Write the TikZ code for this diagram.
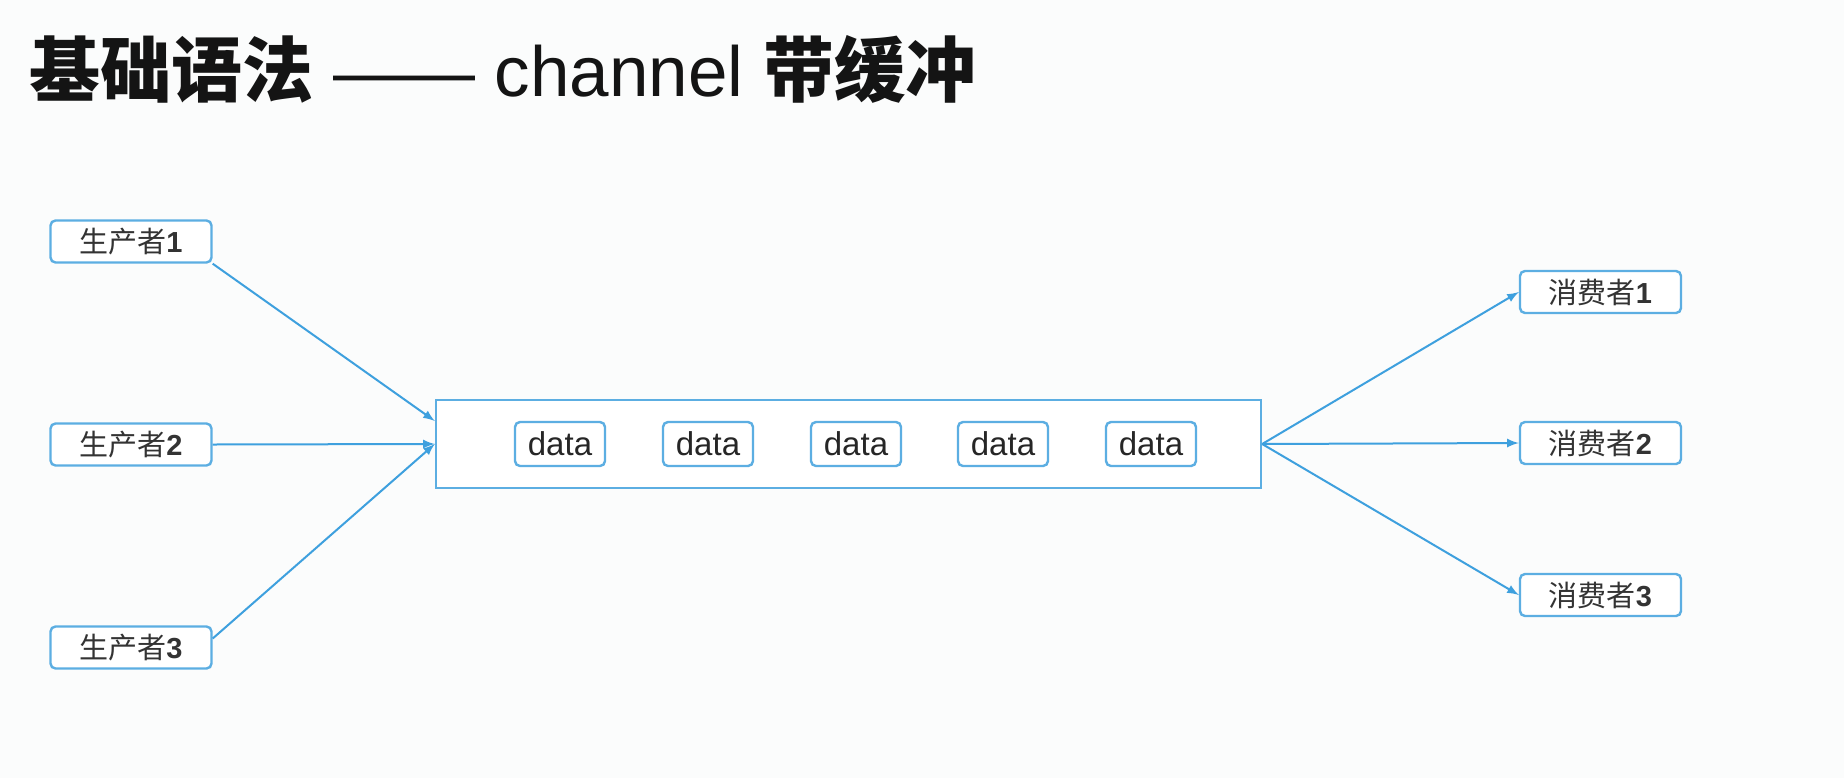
\documentclass[tikz,border=0pt]{standalone}
\usepackage{fontspec}
\setmainfont{Liberation Sans}
\newfontfamily\cjk{Noto Sans CJK SC}
\usepackage{tikz}
\tikzset{>=latex}
\usetikzlibrary{calc,arrows}
\definecolor{chanblue}{RGB}{92,174,226}
\definecolor{flowblue}{RGB}{62,160,222}
\definecolor{pagebg}{RGB}{251,252,252}
\tikzset{
  role/.style={draw=chanblue, line width=1.2pt, rounded corners=2.5pt, fill=white,
    minimum width=80.5pt, minimum height=21pt, inner sep=0pt, text=black!80,
    font=\fontsize{14.5}{16}\selectfont},
  databox/.style={draw=chanblue, line width=1.2pt, rounded corners=2.5pt, fill=white,
    minimum width=45pt, minimum height=22pt, inner sep=0pt, text=black!85,
    font=\fontsize{16.5}{18}\selectfont},
  chanbox/.style={draw=chanblue, line width=1.2pt, fill=white,
    minimum width=412.5pt, minimum height=44pt, inner sep=0pt},
  flow/.style={->, draw=flowblue, line width=1pt}
}

\begin{document}
\begin{tikzpicture}[x=0.5pt,y=-0.5pt]
  \fill[pagebg] (0,0) rectangle (1844,778);
  \useasboundingbox (0,0) rectangle (1844,778);
  % title
  \node[anchor=base west, inner sep=0pt, text=black!92, font=\fontsize{35.5}{40}\selectfont] (title) at (29,96)
    {{\cjk\bfseries 基础语法} —— channel {\cjk\bfseries 带缓冲}};
  % channel with its buffer
  \node[chanbox] (chan) at (848.5,444) {};
  \foreach \i/\x in {1/560,2/708,3/856,4/1003,5/1151}
    \node[databox] (d\i) at (\x,444) {data};
  % producers and consumers
  \foreach \i/\y in {1/241.5,2/444.5,3/647.5}
    \node[role] (p\i) at (131,\y) {{\cjk 生产者}\textbf{\i}};
  \foreach \i/\y in {1/292,2/443,3/595}
    \node[role] (c\i) at (1600.5,\y) {{\cjk 消费者}\textbf{\i}};
  \draw[flow] (p1.south east) -- ($(chan.west)+(0,-23)$);
  \draw[flow] (p2.east) -- (chan.west);
  \draw[flow] ($(p3.east)+(0,-9)$) -- (chan.west);
  \foreach \i in {1,2,3}
    \draw[flow] (chan.east) -- (c\i.west);
\end{tikzpicture}
\end{document}
